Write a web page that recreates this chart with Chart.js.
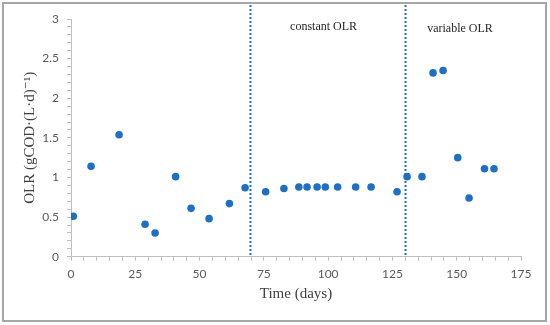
<!DOCTYPE html>
<html>
<head>
<meta charset="utf-8">
<script src="https://cdn.jsdelivr.net/npm/chart.js@4.4.0/dist/chart.umd.min.js"></script>
<style>
  html, body { margin: 0; padding: 0; background: #fff; }
  #wrap { position: relative; width: 550px; height: 325px; }
  #frame { position: absolute; left: 2px; top: 2px; width: 541px; height: 316px; border: 2px solid #a6a6a6; pointer-events: none; }
  canvas { position: absolute; left: 0; top: 0; }
</style>
</head>
<body>
<div id="wrap">
  <canvas id="chart" width="550" height="325"></canvas>
  <div id="frame"></div>
</div>
<script>
const days = [0.9, 7.8, 18.7, 28.8, 32.7, 40.7, 46.7, 53.7, 61.6, 67.7, 75.7, 82.8, 88.6, 91.8, 95.7, 98.9, 103.7, 110.7, 116.7, 126.8, 130.7, 136.5, 140.8, 144.7, 150.4, 154.8, 160.8, 164.5];
const olr = [0.51, 1.14, 1.54, 0.41, 0.30, 1.01, 0.61, 0.48, 0.67, 0.87, 0.82, 0.86, 0.88, 0.88, 0.88, 0.88, 0.88, 0.88, 0.88, 0.82, 1.01, 1.01, 2.32, 2.35, 1.25, 0.74, 1.11, 1.11];
const phaseBoundaries = [69.5, 130];
const phaseLabels = ['constant OLR', 'variable OLR'];
const phaseLabelAt = [{ x: 85.2, y: 2.9 }, { x: 138.5, y: 2.88 }];

const points = days.map((d, i) => ({ x: d, y: olr[i] }));

const phasePlugin = {
  id: 'phases',
  afterDatasetsDraw(chart) {
    const { ctx, chartArea, scales } = chart;
    ctx.save();
    ctx.strokeStyle = '#1f6fc5';
    ctx.lineWidth = 2;
    ctx.setLineDash([2, 2]);
    phaseBoundaries.forEach((b) => {
      const px = Math.round(scales.x.getPixelForValue(b)) + 0.5;
      ctx.beginPath();
      ctx.moveTo(px, 5);
      ctx.lineTo(px, chartArea.bottom);
      ctx.stroke();
    });
    ctx.setLineDash([]);
    ctx.fillStyle = '#262626';
    ctx.font = '12px "Liberation Serif", "DejaVu Serif", serif';
    ctx.textBaseline = 'middle';
    ctx.textAlign = 'left';
    phaseLabels.forEach((t, i) => {
      ctx.fillText(t, scales.x.getPixelForValue(phaseLabelAt[i].x), scales.y.getPixelForValue(phaseLabelAt[i].y));
    });
    ctx.restore();
  },
};

new Chart(document.getElementById('chart'), {
  type: 'scatter',
  data: {
    datasets: [
      {
        data: points,
        backgroundColor: '#1f6fc5',
        borderColor: '#1f6fc5',
        pointRadius: 3.8,
        pointBorderWidth: 0,
      },
    ],
  },
  options: {
    responsive: false,
    animation: false,
    layout: { padding: { top: 19, right: 29, bottom: 0, left: 0 } },
    plugins: { legend: { display: false }, tooltip: { enabled: false } },
    scales: {
      x: {
        type: 'linear',
        min: 0,
        max: 175,
        afterFit: (s) => { s.height = 68.3; },
        border: { color: '#bfbfbf', width: 1 },
        grid: { drawOnChartArea: false, color: '#bfbfbf', tickLength: 4 },
        ticks: {
          stepSize: 5,
          autoSkip: false,
          maxTicksLimit: 100,
          maxRotation: 0,
          padding: 6,
          color: '#595959',
          font: { family: 'Lato, "Open Sans", sans-serif', size: 12 },
          callback: (v) => (v % 25 === 0 ? String(v) : ''),
        },
        title: {
          display: true,
          text: 'Time (days)',
          color: '#404040',
          padding: { top: 0, bottom: 22 },
          font: { family: '"Liberation Serif", "DejaVu Serif", serif', size: 15 },
        },
      },
      y: {
        min: 0,
        max: 3,
        afterFit: (s) => { s.width = 71; },
        border: { color: '#bfbfbf', width: 1 },
        grid: { drawOnChartArea: false, color: '#bfbfbf', tickLength: 4 },
        ticks: {
          stepSize: 0.1,
          autoSkip: false,
          maxTicksLimit: 100,
          padding: 8,
          color: '#595959',
          font: { family: 'Lato, "Open Sans", sans-serif', size: 12 },
          callback: (v) => {
            const h = v * 2;
            return Math.abs(h - Math.round(h)) < 1e-6 ? String(Math.round(h) / 2) : '';
          },
        },
        title: {
          display: true,
          text: 'OLR (gCOD·(L·d)⁻¹)',
          color: '#404040',
          padding: { top: 21, bottom: 0 },
          font: { family: '"Liberation Serif", "DejaVu Serif", serif', size: 15 },
        },
      },
    },
  },
  plugins: [phasePlugin],
});
</script>
</body>
</html>
